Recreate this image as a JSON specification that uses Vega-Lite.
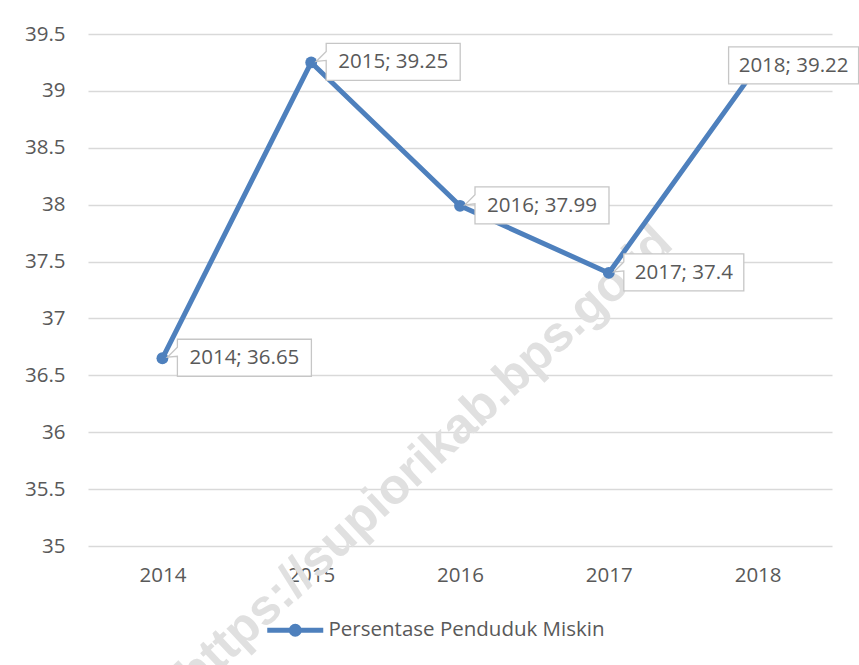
{
  "$schema": "https://vega.github.io/schema/vega-lite/v6.json",
  "width": 744,
  "height": 512,
  "autosize": {"type": "none"},
  "padding": {"left": 88, "top": 34, "right": 27, "bottom": 119},
  "background": "white",
  "config": {
    "view": {"stroke": null},
    "font": "Open Sans",
    "axis": {"labelFont": "Open Sans", "labelColor": "#595959", "labelFontSize": 20.5}
  },
  "data": {
    "values": [
      {"year": "2014", "value": 36.65, "label": "2014; 36.65", "series": "Persentase Penduduk Miskin"},
      {"year": "2015", "value": 39.25, "label": "2015; 39.25", "series": "Persentase Penduduk Miskin"},
      {"year": "2016", "value": 37.99, "label": "2016; 37.99", "series": "Persentase Penduduk Miskin"},
      {"year": "2017", "value": 37.4, "label": "2017; 37.4", "series": "Persentase Penduduk Miskin"},
      {"year": "2018", "value": 39.22, "label": "2018; 39.22", "series": "Persentase Penduduk Miskin"}
    ]
  },
  "encoding": {
    "x": {
      "field": "year", "type": "ordinal",
      "axis": {"title": null, "domain": false, "ticks": false, "grid": false, "labelAngle": 0, "labelPadding": 19}
    },
    "y": {
      "field": "value", "type": "quantitative",
      "scale": {"domain": [35, 39.5], "nice": false, "zero": false},
      "axis": {"title": null, "domain": false, "ticks": false, "values": [35, 35.5, 36, 36.5, 37, 37.5, 38, 38.5, 39, 39.5], "format": "~g", "gridColor": "#D9D9D9", "gridWidth": 1.5, "labelPadding": 23}
    }
  },
  "layer": [
    {
      "data": {"values": [{"year": "2016", "value": 36.05, "wm": "https://supiorikab.bps.go.id"}]},
      "mark": {"type": "text", "font": "Liberation Sans", "fontWeight": "bold", "fontSize": 50, "color": "#E0E0E0", "angle": 317, "align": "center", "baseline": "middle", "dx": -48},
      "encoding": {"text": {"field": "wm"}}
    },
    {
      "mark": {"type": "line", "strokeWidth": 5, "strokeCap": "round", "strokeJoin": "round"},
      "encoding": {
        "color": {
          "field": "series", "type": "nominal",
          "scale": {"range": ["#4E80BD"]},
          "legend": {
            "title": null, "orient": "none", "legendX": 197, "legendY": 586, "padding": 0,
            "symbolType": "M-28,0H28M-4,0A4,4 0 1,1 4,0A4,4 0 1,1 -4,0Z",
            "symbolSize": 4, "symbolStrokeWidth": 5, "symbolFillColor": "#4E80BD", "symbolStrokeColor": "#4E80BD",
            "labelOffset": 23, "labelFontSize": 20.5, "labelColor": "#595959", "labelFont": "Open Sans", "labelLimit": 400
          }
        }
      }
    },
    {
      "mark": {"type": "point", "filled": true, "size": 140, "opacity": 1},
      "encoding": {"color": {"field": "series", "type": "nominal"}}
    },
    {
      "mark": {"type": "point", "filled": true, "size": 4, "fill": "white", "stroke": "#C6C6C6", "strokeWidth": 1.3, "opacity": 1},
      "encoding": {
        "shape": {
          "field": "year", "type": "nominal",
          "scale": {
            "domain": ["2014", "2015", "2016", "2017", "2018"],
            "range": [
              "M15,-19H149V18H15V-2L5,-1L15,-11Z",
              "M15,-19H149V18H15V-2L5,-1L15,-11Z",
              "M15,-19H149V18H15V-2L5,-1L15,-11Z",
              "M15,-19H135V18H15V-2L5,-1L15,-11Z",
              "M-29,-19H101V18H-29Z"
            ]
          },
          "legend": null
        }
      }
    },
    {
      "transform": [{"filter": "datum.year <= '2016'"}],
      "mark": {"type": "text", "fontSize": 20.5, "color": "#595959", "align": "center", "baseline": "middle", "dx": 82, "dy": 0},
      "encoding": {"text": {"field": "label"}}
    },
    {
      "transform": [{"filter": "datum.year == '2017'"}],
      "mark": {"type": "text", "fontSize": 20.5, "color": "#595959", "align": "center", "baseline": "middle", "dx": 75, "dy": 0},
      "encoding": {"text": {"field": "label"}}
    },
    {
      "transform": [{"filter": "datum.year == '2018'"}],
      "mark": {"type": "text", "fontSize": 20.5, "color": "#595959", "align": "center", "baseline": "middle", "dx": 36, "dy": 0},
      "encoding": {"text": {"field": "label"}}
    }
  ]
}
